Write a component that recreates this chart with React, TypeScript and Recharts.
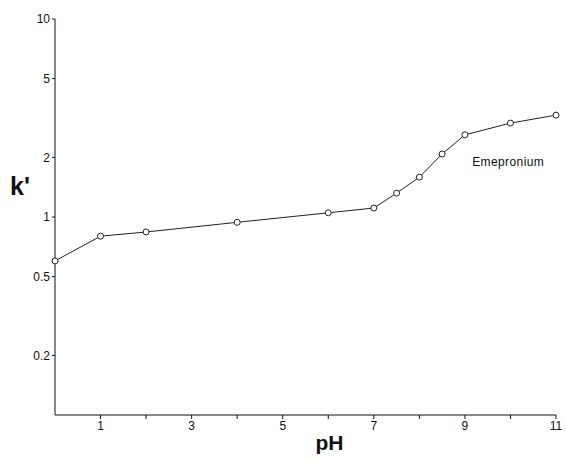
import {
  LineChart,
  Line,
  XAxis,
  YAxis,
  ReferenceDot,
} from 'recharts';

const phValues = [0, 1, 2, 4, 6, 7, 7.5, 8, 8.5, 9, 10, 11];
const kValues = [0.6, 0.8, 0.84, 0.94, 1.05, 1.11, 1.32, 1.59, 2.08, 2.6, 2.98, 3.27];
const xTicks = [1, 2, 3, 4, 5, 6, 7, 8, 9, 10, 11];
const yTicks = [0.2, 0.5, 1, 2, 5, 10];
const seriesName = 'Emepronium';

const data = phValues.map((ph, i) => ({ ph, k: kValues[i] }));

const font = '"Liberation Sans", Arial, sans-serif';

export default function App() {
  return (
    <div style={{ position: 'absolute', left: 0, top: 0, background: '#fff' }}>
      <LineChart
        width={566}
        height={460}
        data={data}
        margin={{ top: 19, right: 10, bottom: 15, left: 0 }}
      >
        <XAxis
          dataKey="ph"
          type="number"
          domain={[0, 11]}
          ticks={xTicks}
          tickFormatter={(v: number) => (v % 2 === 1 ? String(v) : '')}
          height={30}
          stroke="#111"
          tickSize={4}
          tick={{ fill: '#111', fontSize: 12, fontFamily: font }}
          label={{
            value: 'pH',
            position: 'bottom',
            offset: -10,
            dx: 24,
            fill: '#111',
            fontSize: 21,
            fontWeight: 'bold',
            fontFamily: font,
          }}
        />
        <YAxis
          dataKey="k"
          type="number"
          scale="log"
          domain={[0.1, 10]}
          ticks={yTicks}
          allowDataOverflow
          width={55}
          stroke="#111"
          tickSize={3}
          tick={{ fill: '#111', fontSize: 12, fontFamily: font }}
          label={{
            value: "k'",
            position: 'insideLeft',
            offset: 10,
            dy: -31,
            fill: '#111',
            fontSize: 25,
            fontWeight: 'bold',
            fontFamily: font,
          }}
        />
        <ReferenceDot
          x={9.05}
          y={1.9}
          r={0}
          stroke="none"
          label={{
            value: seriesName,
            position: 'right',
            fill: '#111',
            fontSize: 12,
            fontFamily: font,
            letterSpacing: 0.4,
          }}
        />
        <Line
          type="linear"
          dataKey="k"
          stroke="#222"
          strokeWidth={1}
          dot={{ r: 3, fill: '#fff', stroke: '#222', strokeWidth: 1 }}
          isAnimationActive={false}
        />
      </LineChart>
    </div>
  );
}
